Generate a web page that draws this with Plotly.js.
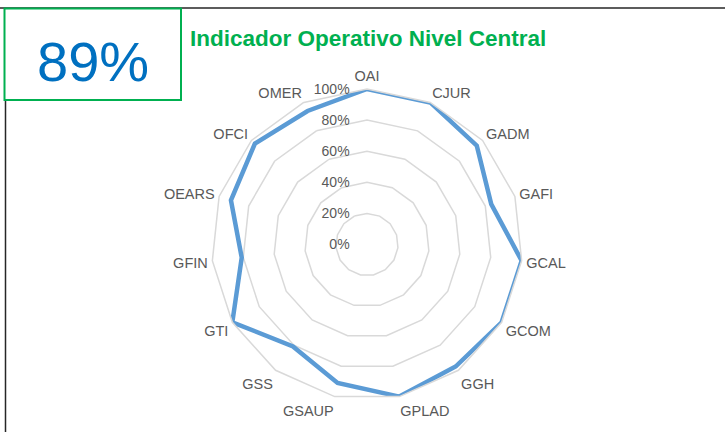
<!DOCTYPE html>
<html>
<head>
<meta charset="utf-8">
<script src="https://cdn.plot.ly/plotly-3.0.1.min.js"></script>
<style>
  html, body { margin: 0; padding: 0; background: #ffffff; }
  #chart { width: 725px; height: 432px; }
</style>
</head>
<body>
<div id="chart"></div>
<script>
const categories = ["OAI","CJUR","GADM","GAFI","GCAL","GCOM","GGH","GPLAD","GSAUP","GSS","GTI","GFIN","OEARS","OFCI","OMER"];
const values = [1.00, 1.00, 0.95, 0.84, 1.00, 1.00, 0.97, 1.00, 0.91, 0.81, 1.00, 0.81, 0.92, 0.97, 0.94];
const radialTicks = [0, 0.2, 0.4, 0.6, 0.8, 1.0];
const radialTickLabels = ["0%","20%","40%","60%","80%","100%"];
const headlineValue = "89%";
const chartTitle = "Indicador Operativo Nivel Central";

const W = 725, H = 432;
const cx = 367, cy = 244.5, R = 155.5;

const trace = {
  type: "scatterpolar",
  mode: "lines",
  r: values.concat([values[0]]),
  theta: categories.concat([categories[0]]),
  line: { color: "#5B9BD5", width: 4.5 },
  hoverinfo: "skip",
  showlegend: false
};

const layout = {
  width: W, height: H,
  margin: { l: 0, r: 0, t: 0, b: 0, pad: 0 },
  paper_bgcolor: "#ffffff",
  plot_bgcolor: "#ffffff",
  showlegend: false,
  font: { family: "Liberation Sans, Arial, sans-serif", color: "#595959", size: 14 },
  title: {
    text: chartTitle,
    x: 190 / W, xanchor: "left", xref: "paper",
    y: 1 - 38 / H, yanchor: "middle", yref: "paper",
    font: { family: "Liberation Sans, Arial, sans-serif", size: 22.5, color: "#00B050", weight: "bold" }
  },
  polar: {
    domain: { x: [(cx - R) / W, (cx + R) / W], y: [(H - cy - R) / H, (H - cy + R) / H] },
    bgcolor: "rgba(0,0,0,0)",
    gridshape: "linear",
    radialaxis: {
      range: [0, 1],
      tickvals: radialTicks,
      ticktext: radialTickLabels,
      angle: 90,
      tickangle: 90,
      side: "counterclockwise",
      showline: false,
      ticks: "outside",
      ticklen: 12,
      tickcolor: "rgba(0,0,0,0)",
      showgrid: true,
      gridcolor: "#D9D9D9",
      gridwidth: 1.5,
      tickfont: { size: 14, color: "#595959" }
    },
    angularaxis: {
      direction: "clockwise",
      rotation: 90,
      showgrid: false,
      showline: true,
      linecolor: "#D9D9D9",
      linewidth: 1.5,
      ticks: "outside",
      ticklen: 1,
      tickcolor: "rgba(0,0,0,0)",
      tickfont: { size: 14.5, color: "#595959" }
    }
  },
  shapes: [
    { type: "line", xref: "paper", yref: "paper", x0: 0, x1: 1, y0: 1 - 8 / H, y1: 1 - 8 / H,
      line: { color: "#262626", width: 1.5 } },
    { type: "line", xref: "paper", yref: "paper", x0: 5.5 / W, x1: 5.5 / W, y0: 0, y1: 1 - 8 / H,
      line: { color: "#262626", width: 1.5 } },
    { type: "rect", xref: "paper", yref: "paper", x0: 4.5 / W, x1: 181 / W, y0: 1 - 100 / H, y1: 1 - 8.5 / H,
      fillcolor: "#ffffff", line: { color: "#00B050", width: 2 } }
  ],
  annotations: [
    { text: headlineValue, xref: "paper", yref: "paper", x: 93 / W, y: 1 - 62 / H,
      xanchor: "center", yanchor: "middle", showarrow: false,
      font: { family: "Liberation Sans, Arial, sans-serif", size: 56, color: "#0070C0" } }
  ]
};

Plotly.newPlot("chart", [trace], layout, { displayModeBar: false, staticPlot: true });
</script>
</body>
</html>
